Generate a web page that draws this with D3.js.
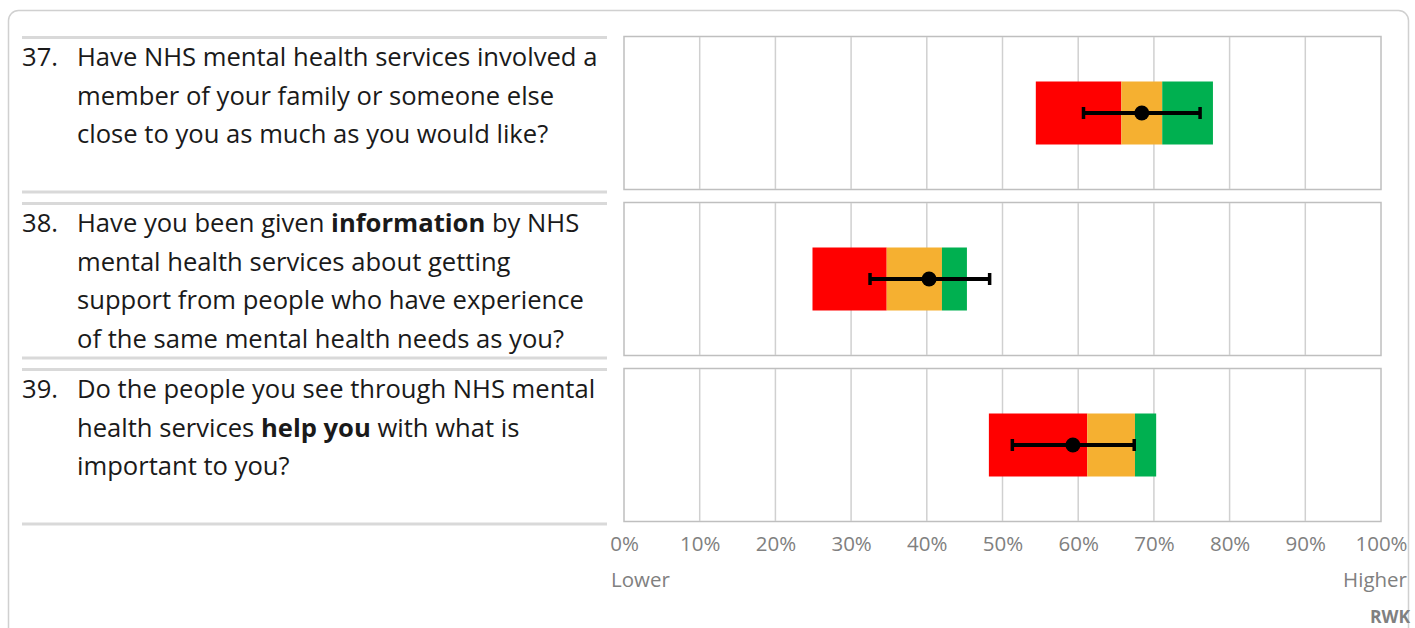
<!DOCTYPE html>
<html>
<head>
<meta charset="utf-8">
<script src="https://cdn.jsdelivr.net/npm/d3@7"></script>
<style>
  html, body { margin: 0; padding: 0; background: #fff; }
  svg { display: block; }
</style>
</head>
<body>
<svg id="chart" width="1415" height="628"></svg>
<script>
// Question numbers and wrapped wording (**...** marks bold words)
const questionNumbers = ["37.", "38.", "39."];
const questionLines = [
  ["Have NHS mental health services involved a",
   "member of your family or someone else",
   "close to you as much as you would like?"],
  ["Have you been given **information** by NHS",
   "mental health services about getting",
   "support from people who have experience",
   "of the same mental health needs as you?"],
  ["Do the people you see through NHS mental",
   "health services **help you** with what is",
   "important to you?"]
];

// Comparison bands (share of respondents): start, red/amber split, amber/green split, end
const bandStart = [0.544, 0.249, 0.482];
const bandRedEnd = [0.657, 0.347, 0.612];
const bandAmberEnd = [0.711, 0.420, 0.675];
const bandEnd = [0.778, 0.453, 0.703];

// Trust score with confidence interval
const score = [0.684, 0.403, 0.593];
const ciLow = [0.607, 0.325, 0.513];
const ciHigh = [0.761, 0.483, 0.674];

const tickValues = [0, 0.1, 0.2, 0.3, 0.4, 0.5, 0.6, 0.7, 0.8, 0.9, 1.0];

const svg = d3.select("#chart");

const font = "'Open Sans', 'Noto Sans', sans-serif";

// Outer frame
svg.append("rect")
  .attr("x", 8.5).attr("y", 10.5)
  .attr("width", 1400).attr("height", 640)
  .attr("rx", 10).attr("ry", 10)
  .attr("fill", "#fff")
  .attr("stroke", "#d0d0d0").attr("stroke-width", 1.5);

const x = d3.scaleLinear().domain([0, 1]).range([624, 1381]);

const panelTop = 36, panelH = 154, panelStep = 166;
const y = d3.scaleBand()
  .domain(questionNumbers)
  .range([panelTop, panelTop + panelStep * questionNumbers.length])
  .paddingInner(0);

const barH = 63;

questionNumbers.forEach((q, i) => {
  const top = y(q);
  const bottom = top + panelH;
  const mid = top + panelH / 2;
  const g = svg.append("g");

  // Left separators above and below the question
  g.append("line")
    .attr("x1", 22).attr("x2", 607)
    .attr("y1", top + 1.5).attr("y2", top + 1.5)
    .attr("stroke", "#d9d9d9").attr("stroke-width", 3);
  g.append("line")
    .attr("x1", 22).attr("x2", 607)
    .attr("y1", bottom + 2).attr("y2", bottom + 2)
    .attr("stroke", "#d9d9d9").attr("stroke-width", 3);

  // Question text
  const txt = g.append("text")
    .attr("font-family", font)
    .attr("font-size", 25.6)
    .attr("fill", "#1a1a1a");
  txt.append("tspan").attr("x", 22).attr("y", top + 30).text(q);
  questionLines[i].forEach((line, li) => {
    const parts = line.split("**");
    let first = true;
    parts.forEach((p, pi) => {
      if (!p) return;
      const ts = txt.append("tspan").text(p);
      if (first) { ts.attr("x", 77).attr("y", top + 30 + li * 38.7); first = false; }
      if (pi % 2 === 1) ts.attr("font-weight", "bold");
    });
  });

  // Panel frame
  g.append("rect")
    .attr("x", x(0)).attr("y", top + 0.5)
    .attr("width", x(1) - x(0)).attr("height", panelH - 1)
    .attr("fill", "#fff")
    .attr("stroke", "#bfbfbf").attr("stroke-width", 1.5);

  // Vertical gridlines
  g.selectAll("line.grid")
    .data(tickValues.slice(1, -1))
    .join("line")
    .attr("class", "grid")
    .attr("x1", d => x(d)).attr("x2", d => x(d))
    .attr("y1", top + 1).attr("y2", bottom - 1)
    .attr("stroke", "#d0d0d0").attr("stroke-width", 1.5);

  // Comparison bands
  const segs = [
    [bandStart[i], bandRedEnd[i], "#ff0000"],
    [bandRedEnd[i], bandAmberEnd[i], "#f5b031"],
    [bandAmberEnd[i], bandEnd[i], "#00b050"]
  ];
  g.selectAll("rect.band")
    .data(segs)
    .join("rect")
    .attr("class", "band")
    .attr("x", d => x(d[0]))
    .attr("width", d => x(d[1]) - x(d[0]))
    .attr("y", mid - barH / 2)
    .attr("height", barH)
    .attr("fill", d => d[2]);

  // Confidence interval
  g.append("line")
    .attr("x1", x(ciLow[i])).attr("x2", x(ciHigh[i]))
    .attr("y1", mid).attr("y2", mid)
    .attr("stroke", "#000").attr("stroke-width", 4);
  [ciLow[i], ciHigh[i]].forEach(v => {
    g.append("line")
      .attr("x1", x(v)).attr("x2", x(v))
      .attr("y1", mid - 6).attr("y2", mid + 6)
      .attr("stroke", "#000").attr("stroke-width", 3.5);
  });

  // Score marker
  g.append("circle")
    .attr("cx", x(score[i])).attr("cy", mid)
    .attr("r", 7.5)
    .attr("fill", "#000");
});

// Percentage axis
const axisY = panelTop + panelStep * 2 + panelH;
const axis = d3.axisBottom(x)
  .tickValues(tickValues)
  .tickFormat(d3.format(".0%"))
  .tickSize(0)
  .tickPadding(14);
const ax = svg.append("g")
  .attr("transform", `translate(0,${axisY})`)
  .call(axis);
ax.select(".domain").remove();
ax.selectAll("text")
  .attr("font-family", font)
  .attr("font-size", 20.5)
  .attr("fill", "#808080");

svg.append("text")
  .attr("x", 611).attr("y", 587)
  .attr("font-family", font).attr("font-size", 20.5)
  .attr("fill", "#808080")
  .text("Lower");
svg.append("text")
  .attr("x", 1407).attr("y", 587)
  .attr("text-anchor", "end")
  .attr("font-family", font).attr("font-size", 20.5)
  .attr("fill", "#808080")
  .text("Higher");
svg.append("text")
  .attr("x", 1410).attr("y", 623)
  .attr("text-anchor", "end")
  .attr("font-family", font).attr("font-size", 17.5)
  .attr("font-weight", "bold")
  .attr("fill", "#808080")
  .text("RWK");
</script>
</body>
</html>
